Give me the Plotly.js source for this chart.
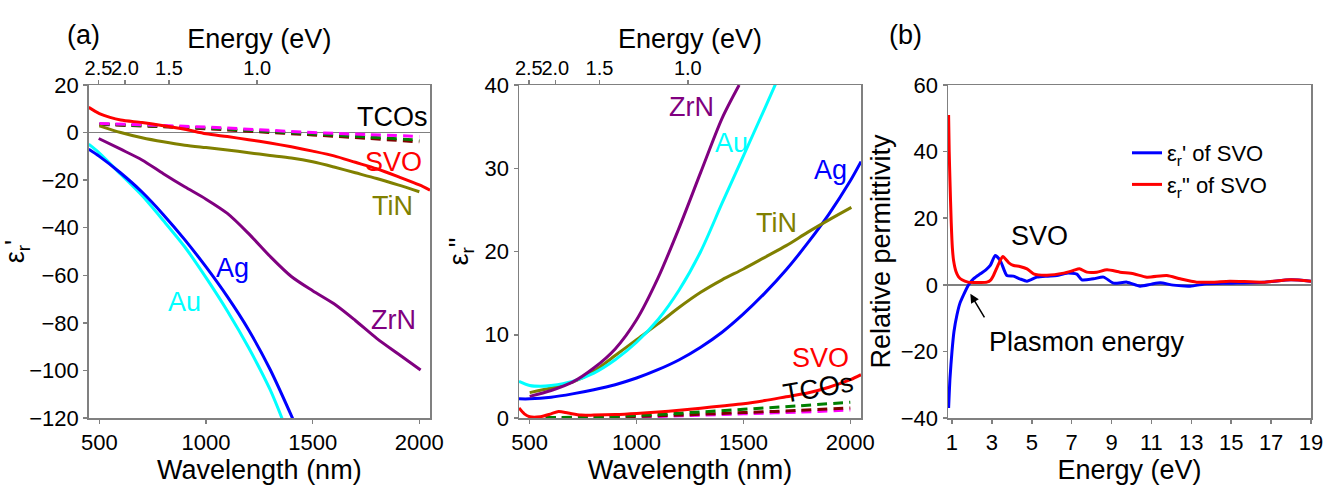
<!DOCTYPE html>
<html><head><meta charset="utf-8">
<script src="https://cdn.plot.ly/plotly-3.0.1.min.js"></script>
<style>html,body{margin:0;padding:0;background:#fff}#chart{width:1341px;height:488px}</style>
</head><body><div id="chart"></div>
<script>
// ---------- Panel (a) left: real permittivity vs wavelength ----------
const svoRe_wl = [450, 500, 550, 600, 700, 800, 900, 1000, 1100, 1200, 1300, 1400, 1500, 1600, 1700, 1800, 1900, 2000, 2050];
const svoRe    = [10.6, 8.0, 6.4, 5.3, 4.2, 2.9, 1.4, -0.5, -1.7, -3.0, -4.4, -6.0, -7.8, -9.8, -12.5, -15.2, -18.5, -22.0, -24.2];
const tinRe_wl = [500, 600, 700, 800, 900, 1000, 1100, 1200, 1300, 1400, 1500, 1600, 1700, 1800, 1900, 2000];
const tinRe    = [2.8, 0.0, -2.2, -3.9, -5.3, -6.3, -7.3, -8.5, -9.6, -10.7, -12.3, -14.5, -16.9, -19.3, -22.0, -24.9];
const tco_wl   = [500, 750, 1000, 1250, 1500, 1750, 2000];
const tcoGreenRe   = [3.6, 2.8, 1.9, 0.7, -0.6, -1.8, -3.2];
const tcoMagentaRe = [3.8, 3.1, 2.3, 1.2, 0.0, -0.8, -1.6];
const tcoDarkredRe = [3.4, 2.6, 1.6, 0.3, -1.0, -2.4, -3.9];
const agRe_wl  = [450, 500, 600, 700, 800, 900, 1000, 1100, 1200, 1300, 1420];
const agRe     = [-7.0, -10.0, -17.0, -25.0, -34.5, -45.0, -56.5, -69.0, -83.0, -99.5, -123.0];
const auRe_wl  = [450, 500, 600, 700, 800, 900, 1000, 1100, 1200, 1300, 1360];
const auRe     = [-4.9, -8.6, -17.5, -26.5, -37.0, -48.0, -61.0, -75.0, -90.5, -108.0, -121.0];
const zrnRe_wl = [497, 600, 700, 800, 900, 1000, 1100, 1200, 1300, 1400, 1500, 1600, 1700, 1800, 1900, 2006];
const zrnRe    = [-2.5, -7.0, -11.5, -17.3, -22.8, -28.0, -34.0, -42.5, -52.0, -60.5, -66.5, -72.0, -79.0, -86.5, -93.0, -99.8];

// ---------- Panel (a) right: imaginary permittivity vs wavelength ----------
const agIm_wl  = [450, 500, 600, 700, 800, 900, 1000, 1100, 1200, 1300, 1400, 1500, 1600, 1700, 1800, 1900, 2000, 2050];
const agIm     = [2.3, 2.3, 2.5, 2.9, 3.4, 4.0, 4.8, 5.8, 7.0, 8.5, 10.3, 12.5, 15.0, 17.8, 21.0, 24.5, 28.5, 30.8];
const auIm_wl  = [450, 500, 550, 600, 700, 800, 900, 1000, 1100, 1200, 1300, 1400, 1500, 1600, 1650];
const auIm     = [4.4, 3.9, 3.8, 3.9, 4.4, 5.4, 7.0, 9.1, 11.8, 15.4, 20.0, 25.8, 31.5, 37.2, 40.1];
const zrnIm_wl = [500, 600, 700, 800, 900, 1000, 1100, 1200, 1300, 1400, 1480];
const zrnIm    = [2.6, 3.3, 4.3, 6.0, 8.3, 11.8, 16.8, 22.9, 29.5, 36.0, 40.0];
const tinIm_wl = [500, 600, 700, 800, 900, 1000, 1100, 1200, 1300, 1400, 1500, 1600, 1700, 1800, 1900, 2005];
const tinIm    = [3.05, 3.6, 4.3, 5.6, 7.5, 9.4, 11.3, 13.3, 15.1, 16.6, 17.9, 19.3, 20.7, 22.3, 23.8, 25.3];
const svoIm_wl = [450, 475, 500, 550, 600, 635, 680, 740, 800, 900, 1000, 1100, 1200, 1300, 1400, 1500, 1600, 1700, 1800, 1900, 2000, 2050];
const svoIm    = [1.2, 0.5, 0.15, 0.15, 0.5, 0.78, 0.6, 0.35, 0.35, 0.42, 0.55, 0.72, 0.93, 1.17, 1.45, 1.72, 2.1, 2.55, 3.0, 3.7, 4.6, 5.2];
const tcoGreenIm   = [0.05, 0.1, 0.3, 0.65, 1.05, 1.45, 1.9];
const tcoDarkredIm = [0.0, 0.05, 0.18, 0.4, 0.65, 0.9, 1.2];
const tcoMagentaIm = [0.0, 0.03, 0.12, 0.3, 0.5, 0.7, 0.95];

// top energy axis tick labels (eV)
const energyTicks = [2.5, 2.0, 1.5, 1.0];
const energyTickText = ['2.5', '2.0', '1.5', '1.0'];

// ---------- Panel (b): SVO permittivity vs energy ----------
const svoRe_E = [0.83, 0.9, 1.0, 1.1, 1.25, 1.4, 1.58, 1.83, 2.1, 2.42, 2.7, 2.92, 3.17, 3.42, 3.75, 4.08, 4.4, 4.76, 5.26, 5.8, 6.26, 6.76, 7.26, 7.51, 8.1, 8.6, 9.1, 9.77, 10.43, 11.0, 11.44, 12.1, 12.94, 13.77, 14.9, 16.6, 18.03, 19.0];
const svoRe_b = [-37, -28, -20, -14, -9, -5.5, -3.0, 0.0, 1.9, 3.3, 4.5, 5.8, 8.8, 7.3, 2.8, 2.6, 1.8, 1.1, 2.3, 2.6, 2.8, 3.5, 3.2, 1.5, 1.8, 2.3, 0.5, 0.8, -0.4, 0.2, 0.6, -0.1, -0.4, 0.3, 0.5, 0.8, 1.5, 1.1];
const svoIm_E = [0.83, 0.86, 0.9, 0.96, 1.02, 1.08, 1.2, 1.33, 1.5, 1.8, 2.1, 2.42, 2.75, 2.95, 3.08, 3.34, 3.55, 3.85, 4.09, 4.4, 4.76, 5.09, 5.76, 6.6, 7.09, 7.39, 7.76, 8.26, 8.77, 9.43, 10.1, 10.77, 11.77, 12.44, 13.27, 14.1, 14.93, 16.6, 17.95, 19.0];
const svoIm_b = [51, 40, 31, 19, 11, 7.3, 4.0, 2.4, 1.5, 0.8, 0.7, 0.7, 0.8, 1.5, 2.8, 6.3, 8.5, 6.6, 5.8, 5.5, 4.8, 3.3, 2.9, 3.5, 4.3, 4.8, 3.8, 3.8, 4.5, 3.8, 3.3, 2.3, 2.8, 1.8, 0.8, 0.8, 1.1, 0.8, 1.5, 1.1];

const FONT = 'Liberation Sans, Arial, sans-serif';
const GRAY = '#808080';
const LW = 3;
const dash = '10px,6px';

function line(x, y, color, xa, ya, extra) {
  return Object.assign({
    type: 'scatter', mode: 'lines', x: x, y: y, xaxis: xa, yaxis: ya,
    line: {color: color, width: LW, shape: 'spline', smoothing: 0.8},
    showlegend: false, hoverinfo: 'skip'
  }, extra || {});
}
function dashed(x, y, color, xa, ya) {
  return line(x, y, color, xa, ya, {line: {color: color, width: LW, dash: dash, shape: 'spline'}});
}
// invisible helper trace so that the top (energy) axes are drawn
function helper(x, y, xa, ya) {
  return {type: 'scatter', mode: 'lines', x: x, y: y, xaxis: xa, yaxis: ya,
          opacity: 0, line: {width: 0}, showlegend: false, hoverinfo: 'skip'};
}

const traces = [
  // panel 1
  dashed(tco_wl, tcoDarkredRe, '#800000', 'x', 'y'),
  dashed(tco_wl, tcoGreenRe, '#008000', 'x', 'y'),
  dashed(tco_wl, tcoMagentaRe, '#ff00ff', 'x', 'y'),
  line(tinRe_wl, tinRe, '#808000', 'x', 'y'),
  line(svoRe_wl, svoRe, '#ff0000', 'x', 'y'),
  line(zrnRe_wl, zrnRe, '#800080', 'x', 'y'),
  line(auRe_wl, auRe, '#00ffff', 'x', 'y'),
  line(agRe_wl, agRe, '#0000ff', 'x', 'y'),
  helper(svoRe_wl, svoRe, 'x2', 'y'),
  // panel 2
  dashed(tco_wl, tcoMagentaIm, '#ff00ff', 'x3', 'y3'),
  dashed(tco_wl, tcoDarkredIm, '#800000', 'x3', 'y3'),
  dashed(tco_wl, tcoGreenIm, '#008000', 'x3', 'y3'),
  line(svoIm_wl, svoIm, '#ff0000', 'x3', 'y3'),
  line(agIm_wl, agIm, '#0000ff', 'x3', 'y3'),
  line(tinIm_wl, tinIm, '#808000', 'x3', 'y3'),
  line(auIm_wl, auIm, '#00ffff', 'x3', 'y3'),
  line(zrnIm_wl, zrnIm, '#800080', 'x3', 'y3'),
  helper(svoIm_wl, svoIm, 'x4', 'y3'),
  // panel 3
  line(svoRe_E, svoRe_b, '#0000ff', 'x5', 'y5', {showlegend: true, name: 'ε<sub>r</sub>\' of SVO', line: {color: '#0000ff', width: LW, shape: 'spline', smoothing: 0.6}}),
  line(svoIm_E, svoIm_b, '#ff0000', 'x5', 'y5', {showlegend: true, name: 'ε<sub>r</sub>" of SVO', line: {color: '#ff0000', width: LW, shape: 'spline', smoothing: 0.6}})
];

const W = 1341, H = 488;
const dom1 = [88.7 / W, 430 / W];
const dom2 = [519 / W, 861 / W];
const dom3 = [948 / W, 1311 / W];
const ydom = [1 - 418 / H, 1 - 85 / H];

const tickFont = {family: FONT, size: 22, color: '#000'};
const topTickFont = {family: FONT, size: 20, color: '#000'};
const titleFont = {family: FONT, size: 27, color: '#000'};
const labFont = (c) => ({family: FONT, size: 27, color: c});
const axBase = {
  showgrid: false, showline: true, linecolor: GRAY, linewidth: 1.5,
  ticks: 'outside', ticklen: 4, tickwidth: 1.5, tickcolor: GRAY,
  tickfont: tickFont, tickangle: 0, zeroline: false, automargin: false
};
const wlRange = [450, 2050];
const energyVals = energyTicks.map(e => 1239.84 / e);

const layout = {
  width: W, height: H,
  margin: {l: 0, r: 0, t: 0, b: 0},
  paper_bgcolor: '#fff', plot_bgcolor: '#fff',
  font: {family: FONT, color: '#000'},
  showlegend: true,
  legend: {x: 1127 / W, y: 1 - 132 / H, xanchor: 'left', yanchor: 'top',
           bgcolor: 'rgba(0,0,0,0)', font: {family: FONT, size: 22, color: '#000'},
           tracegroupgap: 0},
  xaxis: Object.assign({}, axBase, {domain: dom1, anchor: 'y', range: wlRange, tickvals: [500, 1000, 1500, 2000],
    mirror: true, title: {text: 'Wavelength (nm)', font: titleFont, standoff: 2}}),
  xaxis2: Object.assign({}, axBase, {domain: dom1, anchor: 'y', overlaying: 'x', side: 'top', range: wlRange,
    tickvals: energyVals, ticktext: energyTickText, tickfont: topTickFont, ticklabelstandoff: -3,
    title: {text: 'Energy (eV)', font: titleFont, standoff: 0}}),
  yaxis: Object.assign({}, axBase, {domain: ydom, anchor: 'x', range: [-120, 20], tickvals: [20, 0, -20, -40, -60, -80, -100, -120],
    mirror: true, zeroline: true, zerolinecolor: GRAY, zerolinewidth: 1.5,
    title: {text: 'ε<sub>r</sub>\'', font: titleFont, standoff: 4}}),
  xaxis3: Object.assign({}, axBase, {domain: dom2, anchor: 'y3', range: wlRange, tickvals: [500, 1000, 1500, 2000],
    mirror: true, title: {text: 'Wavelength (nm)', font: titleFont, standoff: 2}}),
  xaxis4: Object.assign({}, axBase, {domain: dom2, anchor: 'y3', overlaying: 'x3', side: 'top', range: wlRange,
    tickvals: energyVals, ticktext: energyTickText, tickfont: topTickFont, ticklabelstandoff: -3,
    title: {text: 'Energy (eV)', font: titleFont, standoff: 0}}),
  yaxis3: Object.assign({}, axBase, {domain: ydom, anchor: 'x3', range: [0, 40], tickvals: [0, 10, 20, 30, 40],
    mirror: true, title: {text: 'ε<sub>r</sub>"', font: titleFont, standoff: 8}}),
  xaxis5: Object.assign({}, axBase, {domain: dom3, anchor: 'y5', range: [0.8, 19], tickvals: [1, 3, 5, 7, 9, 11, 13, 15, 17, 19],
    mirror: true, title: {text: 'Energy (eV)', font: titleFont, standoff: 0}}),
  yaxis5: Object.assign({}, axBase, {domain: ydom, anchor: 'x5', range: [-40, 60], tickvals: [60, 40, 20, 0, -20, -40],
    mirror: true, zeroline: true, zerolinecolor: GRAY, zerolinewidth: 1.5,
    title: {text: 'Relative permittivity', font: titleFont, standoff: 2}}),
  annotations: [
    {xref: 'paper', yref: 'paper', x: 65 / W, y: 1 - 18 / H, text: '(a)', showarrow: false, font: labFont('#000')},
    {xref: 'paper', yref: 'paper', x: 924 / W, y: 1 - 18 / H, text: '(b)', showarrow: false, font: labFont('#000')},
    // panel 1 labels
    {xref: 'x', yref: 'y', x: 1872, y: 6.5, text: 'TCOs', showarrow: false, font: labFont('#000')},
    {xref: 'x', yref: 'y', x: 1877, y: -12.5, text: 'SVO', showarrow: false, font: labFont('#ff0000')},
    {xref: 'x', yref: 'y', x: 1872, y: -31.0, text: 'TiN', showarrow: false, font: labFont('#808000')},
    {xref: 'x', yref: 'y', x: 1122, y: -56.8, text: 'Ag', showarrow: false, font: labFont('#0000ff')},
    {xref: 'x', yref: 'y', x: 897, y: -71.1, text: 'Au', showarrow: false, font: labFont('#00ffff')},
    {xref: 'x', yref: 'y', x: 1877, y: -78.7, text: 'ZrN', showarrow: false, font: labFont('#800080')},
    // panel 2 labels
    {xref: 'x3', yref: 'y3', x: 1258, y: 37.4, text: 'ZrN', showarrow: false, font: labFont('#800080')},
    {xref: 'x3', yref: 'y3', x: 1446, y: 33.0, text: 'Au', showarrow: false, font: labFont('#00ffff')},
    {xref: 'x3', yref: 'y3', x: 1906, y: 29.8, text: 'Ag', showarrow: false, font: labFont('#0000ff')},
    {xref: 'x3', yref: 'y3', x: 1653, y: 23.4, text: 'TiN', showarrow: false, font: labFont('#808000')},
    {xref: 'x3', yref: 'y3', x: 1860, y: 7.2, text: 'SVO', showarrow: false, font: labFont('#ff0000')},
    {xref: 'x3', yref: 'y3', x: 1852, y: 3.6, text: 'TCOs', textangle: -10, showarrow: false, font: labFont('#000')},
    // panel 3 labels
    {xref: 'x5', yref: 'y5', x: 5.39, y: 14.8, text: 'SVO', showarrow: false, font: labFont('#000')},
    {xref: 'x5', yref: 'y5', x: 7.76, y: -17.2, text: 'Plasmon energy', showarrow: false, font: labFont('#000')},
    {xref: 'x5', yref: 'y5', x: 1.92, y: -2.7, text: '', showarrow: true, ax: 15, ay: 25,
     arrowhead: 2, arrowsize: 1.2, arrowwidth: 1.5, arrowcolor: '#000'}
  ]
};

Plotly.newPlot('chart', traces, layout, {staticPlot: true, displayModeBar: false});
</script>
</body></html>
